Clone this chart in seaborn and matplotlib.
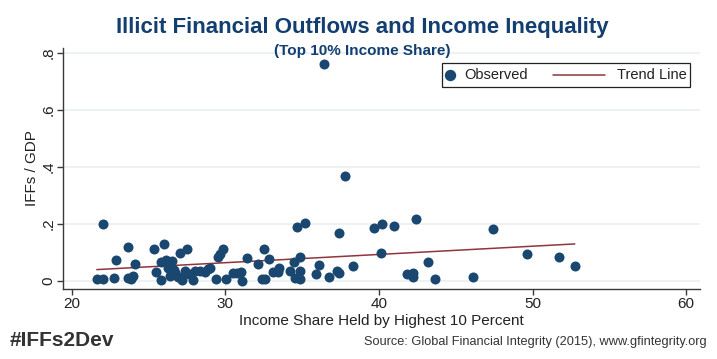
import numpy as np
import pandas as pd
import matplotlib
matplotlib.use("Agg")
import matplotlib.pyplot as plt
import seaborn as sns
from matplotlib.lines import Line2D
from matplotlib.patches import Rectangle

# ---- data ----
income_share = [21.63, 22.06, 22.06, 22.75, 22.88, 23.68, 23.68, 23.84, 23.97, 24.14,
                25.34, 25.51, 25.81, 25.83, 26.03, 26.14, 26.24, 26.40, 26.51, 26.66,
                26.73, 26.94, 27.05, 27.18, 27.38, 27.49, 27.66, 27.92, 28.03, 28.35,
                28.68, 28.85, 29.00, 29.39, 29.50, 29.65, 29.83, 30.03, 30.52, 30.74,
                31.05, 31.11, 31.39, 32.13, 32.36, 32.58, 32.53, 32.86, 33.12, 33.45,
                33.52, 34.21, 34.47, 34.54, 34.86, 34.86, 34.86, 34.65, 35.19, 36.40,
                35.89, 36.11, 36.73, 37.25, 37.42, 37.42, 37.79, 38.33, 39.68, 40.23,
                40.98, 40.14, 41.81, 42.22, 42.24, 42.42, 43.22, 43.65, 46.13, 47.40,
                49.62, 51.75, 52.75]
iffs_gdp = [0.006, 0.006, 0.201, 0.012, 0.074, 0.118, 0.012, 0.007, 0.019, 0.060,
            0.111, 0.030, 0.067, 0.002, 0.130, 0.073, 0.046, 0.019, 0.070, 0.039,
            0.027, 0.013, 0.098, 0.002, 0.035, 0.114, 0.025, 0.004, 0.035, 0.035,
            0.030, 0.041, 0.045, 0.007, 0.083, 0.095, 0.111, 0.007, 0.029, 0.029,
            0.033, 0.001, 0.080, 0.060, 0.008, 0.006, 0.112, 0.077, 0.031, 0.033,
            0.045, 0.035, 0.065, 0.009, 0.008, 0.036, 0.085, 0.188, 0.205, 0.761,
            0.024, 0.055, 0.013, 0.035, 0.029, 0.169, 0.368, 0.053, 0.185, 0.199,
            0.193, 0.099, 0.026, 0.028, 0.014, 0.218, 0.067, 0.006, 0.014, 0.181,
            0.096, 0.085, 0.054]
trend_x = [21.63, 52.75]
trend_y = [0.040, 0.130]

x_ticks = [20, 30, 40, 50, 60]
y_ticks = [0, 0.2, 0.4, 0.6, 0.8]
y_tick_labels = ["0", ".2", ".4", ".6", ".8"]
legend_labels = ["Observed", "Trend Line"]

title = "Illicit Financial Outflows and Income Inequality"
subtitle = "(Top 10% Income Share)"
x_label = "Income Share Held by Highest 10 Percent"
y_label = "IFFs / GDP"
hashtag = "#IFFs2Dev"
source = "Source: Global Financial Integrity (2015), www.gfintegrity.org"

NAVY = "#1a476f"
MAROON = "#90353b"
TITLE_C = "#123e70"
GRID_C = "#e9eff1"
AXIS_C = "#3a3a3a"
TEXT_C = "#222222"

sns.set_theme(style="white")
plt.rcParams['font.family'] = ['Liberation Sans', 'DejaVu Sans']

W, H = 717, 359
fig = plt.figure(figsize=(W / 100, H / 100), dpi=100)
AX_L, AX_R, AX_T, AX_B = 63, 700, 48, 289
ax = fig.add_axes([AX_L / W, (H - AX_B) / H, (AX_R - AX_L) / W, (AX_B - AX_T) / H])

df = pd.DataFrame({"income": income_share, "iffs": iffs_gdp})
sns.scatterplot(data=df, x="income", y="iffs", ax=ax, color=NAVY, s=52,
                linewidth=0, zorder=3, legend=False)
sns.lineplot(x=trend_x, y=trend_y, ax=ax, color=MAROON, linewidth=1.1,
             zorder=2, legend=False)

ax.set_xlim(19.43, 60.9)
ax.set_ylim(-0.0281, 0.8175)
ax.set_xticks(x_ticks)
ax.set_xticklabels([str(t) for t in x_ticks])
ax.set_yticks(y_ticks)
ax.set_yticklabels(y_tick_labels, rotation=90, va="center")
for t in y_ticks:
    ax.axhline(t, color=GRID_C, linewidth=1.2, zorder=0)

for side in ["top", "right"]:
    ax.spines[side].set_visible(False)
for side in ["left", "bottom"]:
    ax.spines[side].set_color(AXIS_C)
    ax.spines[side].set_linewidth(1.0)
ax.tick_params(axis="both", direction="out", length=4.5, width=1.0, color=AXIS_C,
               labelsize=11, labelcolor=TEXT_C, bottom=True, left=True)
ax.tick_params(axis="x", pad=1.5)
ax.tick_params(axis="y", pad=1)
ax.set_xlabel(x_label, fontsize=11, color=TEXT_C, labelpad=2)
ax.set_ylabel(y_label, fontsize=11, color=TEXT_C, labelpad=2)

# legend (drawn in figure pixel layout)
ft = fig.transFigure
ly = 1 - 75 / H
fig.add_artist(Rectangle((442 / W, 1 - 87 / H), 248 / W, 24 / H, transform=ft,
                         fill=True, facecolor="white", edgecolor=TEXT_C, linewidth=0.9))
fig.add_artist(Line2D([450 / W], [ly], transform=ft, marker="o", markersize=7.2,
                      markerfacecolor=NAVY, markeredgecolor=NAVY, linestyle="none"))
fig.text(464 / W, ly, legend_labels[0], ha="left", va="center", fontsize=10.5, color=TEXT_C)
fig.add_artist(Line2D([553 / W, 605 / W], [ly, ly], transform=ft, color=MAROON, linewidth=1.1))
fig.text(617 / W, ly, legend_labels[1], ha="left", va="center", fontsize=10.5, color=TEXT_C)

fig.text(0.505, 1 - 28 / H, title, ha="center", va="center", fontsize=16,
         fontweight="bold", color=TITLE_C)
fig.text(0.505, 1 - 51 / H, subtitle, ha="center", va="center", fontsize=11,
         fontweight="bold", color=TITLE_C)
fig.text(10 / W, 1 - 341 / H, hashtag, ha="left", va="center", fontsize=15,
         fontweight="bold", color="#333333")
fig.text(707 / W, 1 - 342 / H, source, ha="right", va="center", fontsize=9.2,
         color="#333333")

fig.savefig("out.png", dpi=100)
